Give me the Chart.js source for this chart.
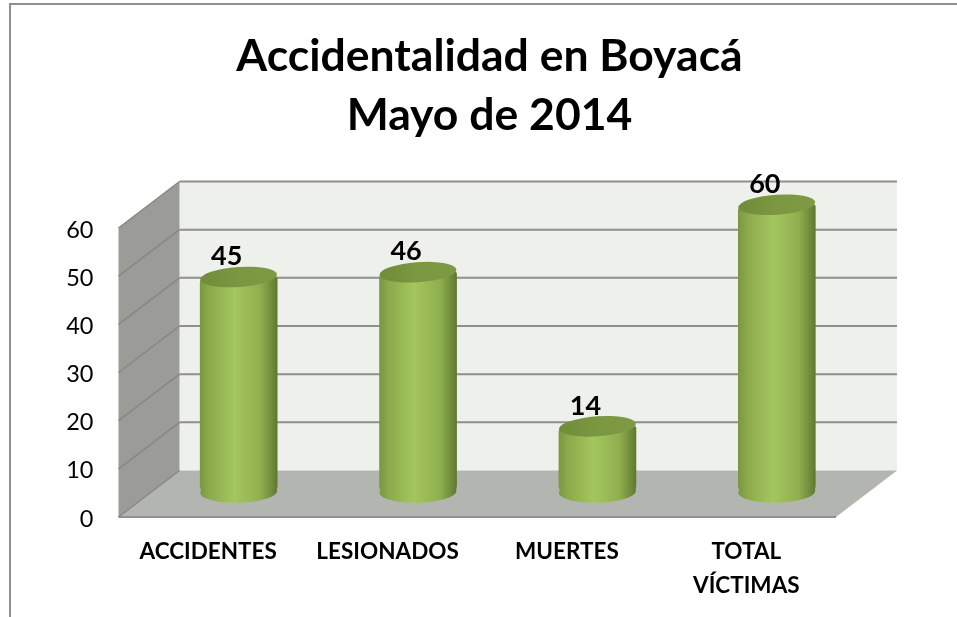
<!DOCTYPE html>
<html lang="es">
<head>
<meta charset="utf-8">
<title>Accidentalidad en Boyacá</title>
<script src="https://cdn.jsdelivr.net/npm/chart.js@4"></script>
<style>
    html, body { margin: 0; padding: 0; background: #fff; overflow: hidden; }
    #frame { position: absolute; left: 9px; top: 3px; right: 0; bottom: 0; border-left: 2px solid #8f8f8f; border-top: 2px solid #8f8f8f; }
    #wrap { position: absolute; left: 0; top: 0; width: 957px; height: 617px; }
</style>
</head>
<body>
<div id="frame"></div>
<div id="wrap"><canvas id="accidentesChart" width="957" height="617"></canvas></div>
<script>
const categorias = ['ACCIDENTES', 'LESIONADOS', 'MUERTES', ['TOTAL', 'VÍCTIMAS']];
const valores = [45, 46, 14, 60];
const tituloLineas = ['Accidentalidad en Boyacá', 'Mayo de 2014'];

const fuente = 'Lato, Carlito, "Open Sans", sans-serif';

// how far the back wall sits from the front plane (false 3D)
const fondoX = 61;
const fondoY = -46.5;

function gradienteCilindro(ctx, x0, x1) {
    const g = ctx.createLinearGradient(x0, 0, x1, 0);
    g.addColorStop(0, '#7a9840');
    g.addColorStop(0.12, '#8bab4c');
    g.addColorStop(0.45, '#a4c65e');
    g.addColorStop(0.78, '#8fb04f');
    g.addColorStop(0.92, '#728e3c');
    g.addColorStop(1, '#5f7a30');
    return g;
}

const paredes = {
    id: 'paredes',
    beforeDatasetsDraw(chart) {
        const { ctx, chartArea: a, scales: { y } } = chart;
        const base = y.getPixelForValue(0);
        const tope = y.getPixelForValue(60);
        ctx.save();

        // back wall
        ctx.fillStyle = '#eef0ec';
        ctx.fillRect(a.left + fondoX, tope + fondoY, a.right - a.left, base - tope);

        // left wall
        ctx.fillStyle = '#9b9c97';
        ctx.beginPath();
        ctx.moveTo(a.left, tope);
        ctx.lineTo(a.left + fondoX, tope + fondoY);
        ctx.lineTo(a.left + fondoX, base + fondoY);
        ctx.lineTo(a.left, base);
        ctx.closePath();
        ctx.fill();

        // floor
        ctx.fillStyle = '#b3b5b0';
        ctx.beginPath();
        ctx.moveTo(a.left, base);
        ctx.lineTo(a.left + fondoX, base + fondoY);
        ctx.lineTo(a.right + fondoX, base + fondoY);
        ctx.lineTo(a.right, base);
        ctx.closePath();
        ctx.fill();
        ctx.strokeStyle = '#90918d';
        ctx.lineWidth = 2;
        ctx.beginPath();
        ctx.moveTo(a.left, base);
        ctx.lineTo(a.right, base);
        ctx.stroke();

        // gridlines, one per tick
        y.ticks.forEach(t => {
            const py = y.getPixelForValue(t.value);
            ctx.strokeStyle = '#878882';
            ctx.lineWidth = 1.5;
            ctx.beginPath();
            ctx.moveTo(a.left, py);
            ctx.lineTo(a.left + fondoX, py + fondoY);
            ctx.stroke();
            if (t.value > 0) {
                ctx.strokeStyle = '#8f908c';
                ctx.lineWidth = 2;
                ctx.beginPath();
                ctx.moveTo(a.left + fondoX, py + fondoY);
                ctx.lineTo(a.right + fondoX, py + fondoY);
                ctx.stroke();
            }
        });
        ctx.restore();

        // bars stand halfway into the depth
        ctx.save();
        ctx.translate(fondoX / 2, fondoY / 2);
        chart.getDatasetMeta(0).data.forEach(b => {
            const r = b.width / 2;
            ctx.fillStyle = gradienteCilindro(ctx, b.x - r, b.x + r);
            ctx.beginPath();
            ctx.ellipse(b.x, b.base - 2, r, 11, -0.03, 0, Math.PI * 2);
            ctx.fill();
        });
    },
    afterDatasetsDraw(chart) {
        const { ctx } = chart;
        chart.getDatasetMeta(0).data.forEach((b, i) => {
            const r = b.width / 2;
            const tapa = ctx.createLinearGradient(b.x - r, 0, b.x + r, 0);
            tapa.addColorStop(0, '#718c3a');
            tapa.addColorStop(0.5, '#7c9741');
            tapa.addColorStop(1, '#7f9a44');
            ctx.fillStyle = tapa;
            ctx.beginPath();
            ctx.ellipse(b.x, b.y, r, 10, -0.07, 0, Math.PI * 2);
            ctx.fill();

            ctx.fillStyle = '#000';
            ctx.font = 'bold 27px ' + fuente;
            ctx.textAlign = 'center';
            ctx.textBaseline = 'middle';
            ctx.fillText(String(valores[i]), b.x - 12, b.y - 20.5);
        });
        ctx.restore();
    }
};

const ctx = document.getElementById('accidentesChart').getContext('2d');
const accidentesChart = new Chart(ctx, {
    type: 'bar',
    data: {
        labels: categorias,
        datasets: [{
            data: valores,
            clip: false,
            barThickness: 77,
            borderSkipped: false,
            borderRadius: { topLeft: 6, topRight: 2, bottomLeft: 8, bottomRight: 8 },
            backgroundColor(c) {
                const cx = c.chart.scales.x ? c.chart.scales.x.getPixelForValue(c.dataIndex) : NaN;
                if (!Number.isFinite(cx)) return '#a4c65e';
                return gradienteCilindro(c.chart.ctx, cx - 38.5, cx + 38.5);
            }
        }]
    },
    options: {
        responsive: false,
        animation: false,
        layout: { padding: { left: 22 } },
        plugins: {
            legend: { display: false },
            tooltip: { enabled: false },
            title: {
                display: true,
                text: tituloLineas,
                color: '#000',
                font: { family: fuente, size: 44.5, weight: 'bold', lineHeight: 1.326 },
                padding: { top: 27.5, bottom: 82.5 }
            }
        },
        scales: {
            x: {
                grid: { display: false },
                border: { display: false },
                afterFit(s) { s.height = 100; },
                ticks: {
                    color: '#000',
                    autoSkip: false,
                    maxRotation: 0,
                    padding: 10,
                    font: { family: fuente, size: 22.5, weight: 'bold', lineHeight: 1.51 }
                }
            },
            y: {
                min: 0,
                max: 60,
                grid: { display: false },
                border: { display: false },
                afterFit(s) { s.width = 96.5; },
                ticks: {
                    stepSize: 10,
                    color: '#000',
                    padding: 17,
                    labelOffset: 2,
                    font: { family: fuente, size: 23.5 }
                }
            },
            // empty axis, only keeps room at the right for the depth of the floor
            derecha: {
                position: 'right',
                grid: { display: false },
                border: { display: false },
                ticks: { display: false },
                afterFit(s) { s.width = 121; }
            }
        }
    },
    plugins: [paredes]
});
</script>
</body>
</html>
